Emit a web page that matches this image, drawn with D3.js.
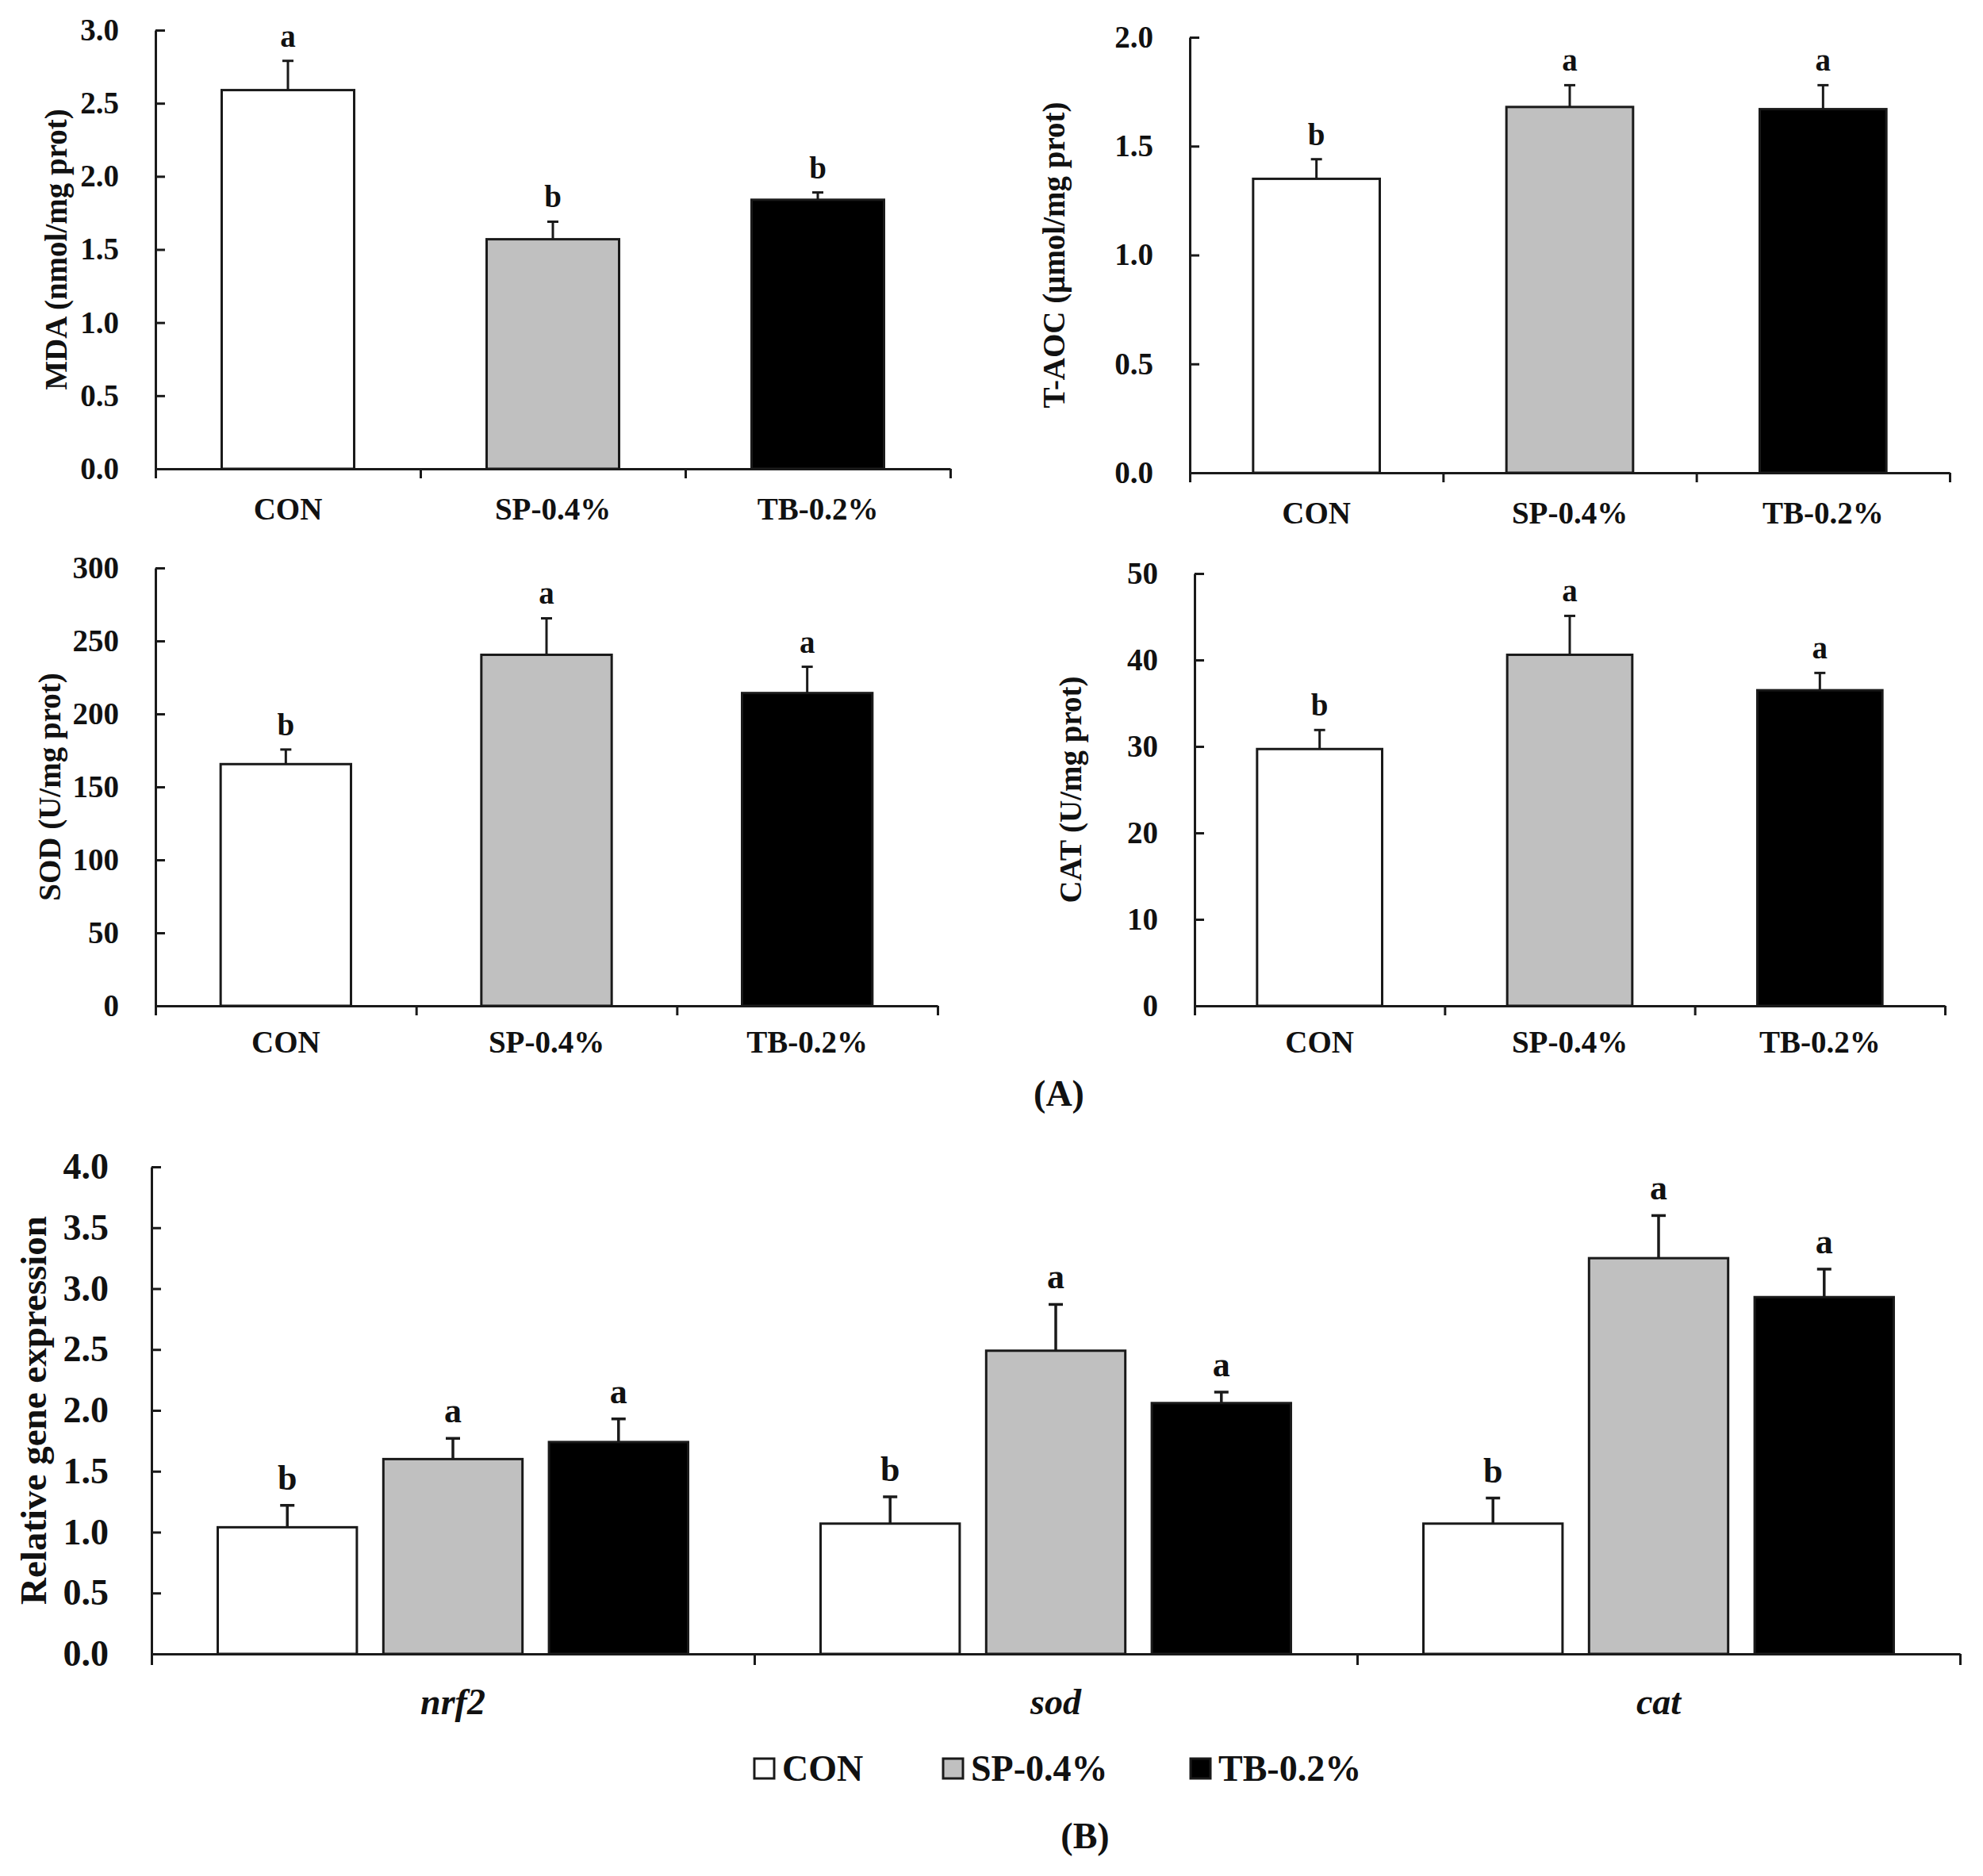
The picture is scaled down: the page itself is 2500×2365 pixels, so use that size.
<!DOCTYPE html>
<html>
<head>
<meta charset="utf-8">
<script src="https://cdn.jsdelivr.net/npm/d3@7"></script>
<style>
  body { margin: 0; background: #fff; }
  svg { display: block; }
  text { font-family: "Liberation Serif", "Times New Roman", serif; font-weight: bold; fill: #111; }
</style>
</head>
<body>
<svg id="chart" width="2500" height="2365"></svg>
<script>
// treatment groups
const groups = ["CON", "SP-0.4%", "TB-0.2%"];
const groupFill = ["#ffffff", "#c0c0c0", "#000000"];

// panel A values (mean, upper error)
const mdaMean = [2.59, 1.57, 1.84];
const mdaErr = [0.20, 0.12, 0.05];
const mdaLetters = ["a", "b", "b"];

const taocMean = [1.35, 1.68, 1.67];
const taocErr = [0.09, 0.10, 0.11];
const taocLetters = ["b", "a", "a"];

const sodMean = [165.6, 240.5, 214.3];
const sodErr = [10, 25, 18];
const sodLetters = ["b", "a", "a"];

const catMean = [29.7, 40.6, 36.5];
const catErr = [2.2, 4.5, 2.0];
const catLetters = ["b", "a", "a"];

// panel B: relative gene expression
const genes = ["nrf2", "sod", "cat"];
const geneMean = [[1.04, 1.60, 1.74], [1.07, 2.49, 2.06], [1.07, 3.25, 2.93]];
const geneErr = [[0.18, 0.17, 0.19], [0.22, 0.38, 0.09], [0.21, 0.35, 0.23]];
const geneLetters = [["b", "a", "a"], ["b", "a", "a"], ["b", "a", "a"]];

const svg = d3.select("#chart");
const ink = "#1a1a1a";

function styleAxis(g) {
  g.selectAll("path, line").attr("stroke", ink).attr("stroke-width", 3);
  g.select(".domain").attr("stroke-width", 3);
}

function drawPanel(p) {
  const y = d3.scaleLinear().domain([0, p.max]).range([p.y0, p.yTop]);
  const x = d3.scaleBand().domain(groups).range([p.x0, p.x1]).paddingInner(0.5).paddingOuter(0.25);
  const edge = d3.scaleLinear().domain([0, 3]).range([p.x0, p.x1]);
  const g = svg.append("g");

  // bars
  g.selectAll(".bar").data(groups).enter().append("rect")
    .attr("x", d => x(d))
    .attr("y", (d, i) => y(p.mean[i]))
    .attr("width", x.bandwidth())
    .attr("height", (d, i) => y(0) - y(p.mean[i]))
    .attr("fill", (d, i) => groupFill[i])
    .attr("stroke", ink).attr("stroke-width", 3);

  // error bars (upper only)
  groups.forEach((d, i) => {
    const cx = x(d) + x.bandwidth() / 2;
    const top = y(p.mean[i] + p.err[i]);
    g.append("line").attr("x1", cx).attr("x2", cx).attr("y1", y(p.mean[i])).attr("y2", top)
      .attr("stroke", ink).attr("stroke-width", 3);
    g.append("line").attr("x1", cx - 7).attr("x2", cx + 7).attr("y1", top).attr("y2", top)
      .attr("stroke", ink).attr("stroke-width", 3);
    g.append("text").attr("x", cx).attr("y", top - 18)
      .attr("text-anchor", "middle").style("font-size", "39px").text(p.letters[i]);
  });

  // y axis, ticks pointing inward
  const ya = g.append("g").attr("transform", `translate(${p.x0},0)`)
    .call(d3.axisLeft(y).tickValues(d3.range(0, p.max + p.step / 2, p.step))
      .tickFormat(d3.format(p.fmt)).tickSizeInner(-12).tickSizeOuter(0).tickPadding(46));
  styleAxis(ya);
  ya.selectAll("text").style("font-size", "39px").style("font-family", null).attr("fill", "#111");

  // x axis with boundary ticks
  const xa = g.append("g").attr("transform", `translate(0,${p.y0})`)
    .call(d3.axisBottom(edge).tickValues([0, 1, 2, 3]).tickFormat("").tickSizeInner(12).tickSizeOuter(0));
  styleAxis(xa);

  const xl = g.append("g").attr("transform", `translate(0,${p.labelY})`)
    .call(d3.axisBottom(x).tickSize(0).tickPadding(0));
  xl.select(".domain").remove();
  xl.selectAll("text").style("font-size", "39px").style("font-family", null)
    .attr("fill", "#111").attr("dy", "0.35em");

  g.append("text")
    .attr("transform", `translate(${p.titleX},${(p.y0 + p.yTop) / 2}) rotate(-90)`)
    .attr("text-anchor", "middle").attr("dy", "0.35em")
    .style("font-size", "39px").text(p.title);
}

drawPanel({ x0: 196, x1: 1198, y0: 591, yTop: 38, max: 3, step: 0.5, fmt: ".1f",
  mean: mdaMean, err: mdaErr, letters: mdaLetters, labelY: 641, titleX: 70,
  title: "MDA (nmol/mg prot)" });
drawPanel({ x0: 1500, x1: 2458, y0: 596, yTop: 47, max: 2, step: 0.5, fmt: ".1f",
  mean: taocMean, err: taocErr, letters: taocLetters, labelY: 646, titleX: 1328,
  title: "T-AOC (μmol/mg prot)" });
drawPanel({ x0: 196, x1: 1182, y0: 1268, yTop: 716, max: 300, step: 50, fmt: "d",
  mean: sodMean, err: sodErr, letters: sodLetters, labelY: 1313, titleX: 62,
  title: "SOD (U/mg prot)" });
drawPanel({ x0: 1506, x1: 2452, y0: 1268, yTop: 723, max: 50, step: 10, fmt: "d",
  mean: catMean, err: catErr, letters: catLetters, labelY: 1313, titleX: 1349,
  title: "CAT (U/mg prot)" });

svg.append("text").attr("x", 1335).attr("y", 1378).attr("dy", "0.35em")
  .attr("text-anchor", "middle").style("font-size", "46px").text("(A)");

// ---- panel B ----
const bx0 = 191, bx1 = 2471, by0 = 2085, byTop = 1471;
const yB = d3.scaleLinear().domain([0, 4]).range([by0, byTop]);
const xB = d3.scaleBand().domain(genes).range([bx0, bx1]);
const xSub = d3.scaleBand().domain(groups).range([0, xB.bandwidth()]).paddingInner(0.16).paddingOuter(0.4);
const edgeB = d3.scaleLinear().domain([0, 3]).range([bx0, bx1]);
const gB = svg.append("g");

genes.forEach((gene, gi) => {
  groups.forEach((grp, i) => {
    const bx = xB(gene) + xSub(grp);
    const cx = bx + xSub.bandwidth() / 2;
    const v = geneMean[gi][i];
    const top = yB(v + geneErr[gi][i]);
    gB.append("rect").attr("x", bx).attr("y", yB(v))
      .attr("width", xSub.bandwidth()).attr("height", yB(0) - yB(v))
      .attr("fill", groupFill[i]).attr("stroke", ink).attr("stroke-width", 3);
    gB.append("line").attr("x1", cx).attr("x2", cx).attr("y1", yB(v)).attr("y2", top)
      .attr("stroke", ink).attr("stroke-width", 3.5);
    gB.append("line").attr("x1", cx - 9).attr("x2", cx + 9).attr("y1", top).attr("y2", top)
      .attr("stroke", ink).attr("stroke-width", 3.5);
    gB.append("text").attr("x", cx).attr("y", top - 20).attr("text-anchor", "middle")
      .style("font-size", "44px").text(geneLetters[gi][i]);
  });
  gB.append("text").attr("x", xB(gene) + xB.bandwidth() / 2).attr("y", 2145).attr("dy", "0.35em")
    .attr("text-anchor", "middle").style("font-size", "46px").style("font-style", "italic").text(gene);
});

const yaB = gB.append("g").attr("transform", `translate(${bx0},0)`)
  .call(d3.axisLeft(yB).tickValues(d3.range(0, 4.25, 0.5)).tickFormat(d3.format(".1f"))
    .tickSizeInner(-12).tickSizeOuter(0).tickPadding(54));
styleAxis(yaB);
yaB.selectAll("text").style("font-size", "46px").style("font-family", null).attr("fill", "#111");

const xaB = gB.append("g").attr("transform", `translate(0,${by0})`)
  .call(d3.axisBottom(edgeB).tickValues([0, 1, 2, 3]).tickFormat("").tickSizeInner(14).tickSizeOuter(0));
styleAxis(xaB);

gB.append("text")
  .attr("transform", `translate(42,${(by0 + byTop) / 2}) rotate(-90)`)
  .attr("text-anchor", "middle").attr("dy", "0.35em")
  .style("font-size", "47px").text("Relative gene expression");

// legend
const legendX = [951, 1189, 1501];
groups.forEach((grp, i) => {
  const lg = svg.append("g").attr("transform", `translate(${legendX[i]},2229)`);
  lg.append("rect").attr("x", 0).attr("y", -12).attr("width", 25).attr("height", 25)
    .attr("fill", groupFill[i]).attr("stroke", ink).attr("stroke-width", 3);
  lg.append("text").attr("x", 35).attr("dy", "0.35em").style("font-size", "46px").text(grp);
});

svg.append("text").attr("x", 1368).attr("y", 2314).attr("dy", "0.35em")
  .attr("text-anchor", "middle").style("font-size", "46px").text("(B)");
</script>
</body>
</html>
